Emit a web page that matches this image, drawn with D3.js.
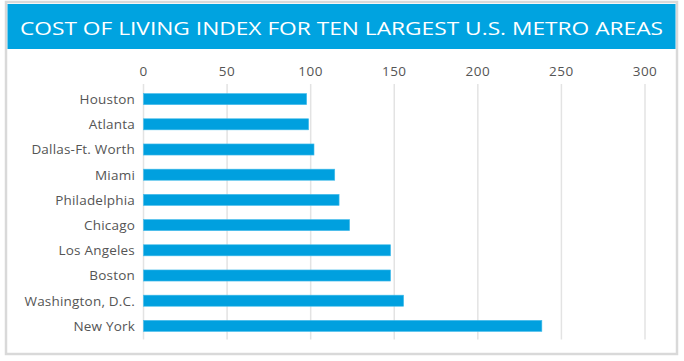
<!DOCTYPE html>
<html>
<head>
<meta charset="utf-8">
<script src="https://cdn.jsdelivr.net/npm/d3@7"></script>
<style>
  body { margin: 0; background: #fff; }
  text { font-family: "Open Sans", "Noto Sans", sans-serif; }
</style>
</head>
<body>
<script>
let title = "COST OF LIVING INDEX FOR TEN LARGEST U.S. METRO AREAS";
let cities = ["Houston","Atlanta","Dallas-Ft. Worth","Miami","Philadelphia","Chicago","Los Angeles","Boston","Washington, D.C.","New York"];
let values = [97.6, 98.8, 102, 114.4, 117, 123.3, 147.8, 147.8, 155.6, 238.3];
let ticks = [0, 50, 100, 150, 200, 250, 300];

let width = 684, height = 361;
let svg = d3.select("body").append("svg")
	.attr("width", width)
	.attr("height", height);

// panel frame
svg.append("rect")
	.attr("x", 6)
	.attr("y", 2)
	.attr("width", 671)
	.attr("height", 352)
	.attr("fill", "#fff")
	.attr("stroke", "#d9d9d9")
	.attr("stroke-width", 2.5);

// title banner
svg.append("rect")
	.attr("x", 7.5)
	.attr("y", 4)
	.attr("width", 668)
	.attr("height", 45)
	.attr("fill", "#00a3e0");

svg.append("text")
	.attr("x", 341.5)
	.attr("y", 35)
	.attr("text-anchor", "middle")
	.attr("fill", "#fff")
	.attr("font-size", 19)
	.attr("font-weight", 500)
	.attr("textLength", 643)
	.attr("lengthAdjust", "spacingAndGlyphs")
	.text(title);

let x = d3.scaleLinear()
	.domain([0, 300])
	.range([143.5, 645]);

let y = d3.scaleBand()
	.domain(cities)
	.range([86.5, 338.5])
	.paddingInner(0.56)
	.paddingOuter(0.28);

// grid lines
svg.append("g")
	.selectAll("line")
	.data(ticks)
	.join("line")
	.attr("x1", d => x(d))
	.attr("x2", d => x(d))
	.attr("y1", 84)
	.attr("y2", 339.5)
	.attr("stroke", "#e3e3e3")
	.attr("stroke-width", 1.5);

// tick labels
svg.append("g")
	.selectAll("text")
	.data(ticks)
	.join("text")
	.attr("x", d => x(d))
	.attr("y", 75.5)
	.attr("text-anchor", "middle")
	.attr("fill", "#555")
	.attr("font-size", 13.5)
	.attr("letter-spacing", 0.5)
	.text(d => d);

//draw bars
svg.append("g")
	.selectAll("rect")
	.data(values)
	.join("rect")
	.attr("x", x(0))
	.attr("y", (d, i) => y(cities[i]))
	.attr("width", d => x(d) - x(0))
	.attr("height", y.bandwidth())
	.attr("fill", "#00a0df")
	.attr("stroke", "#47bdeb")
	.attr("stroke-width", 0.6);

// category labels
svg.append("g")
	.selectAll("text")
	.data(cities)
	.join("text")
	.attr("x", 135)
	.attr("y", d => y(d) + y.bandwidth() / 2)
	.attr("dy", "0.36em")
	.attr("text-anchor", "end")
	.attr("fill", "#555")
	.attr("font-size", 13.5)
	.attr("letter-spacing", 0.2)
	.text(d => d);
</script>
</body>
</html>
